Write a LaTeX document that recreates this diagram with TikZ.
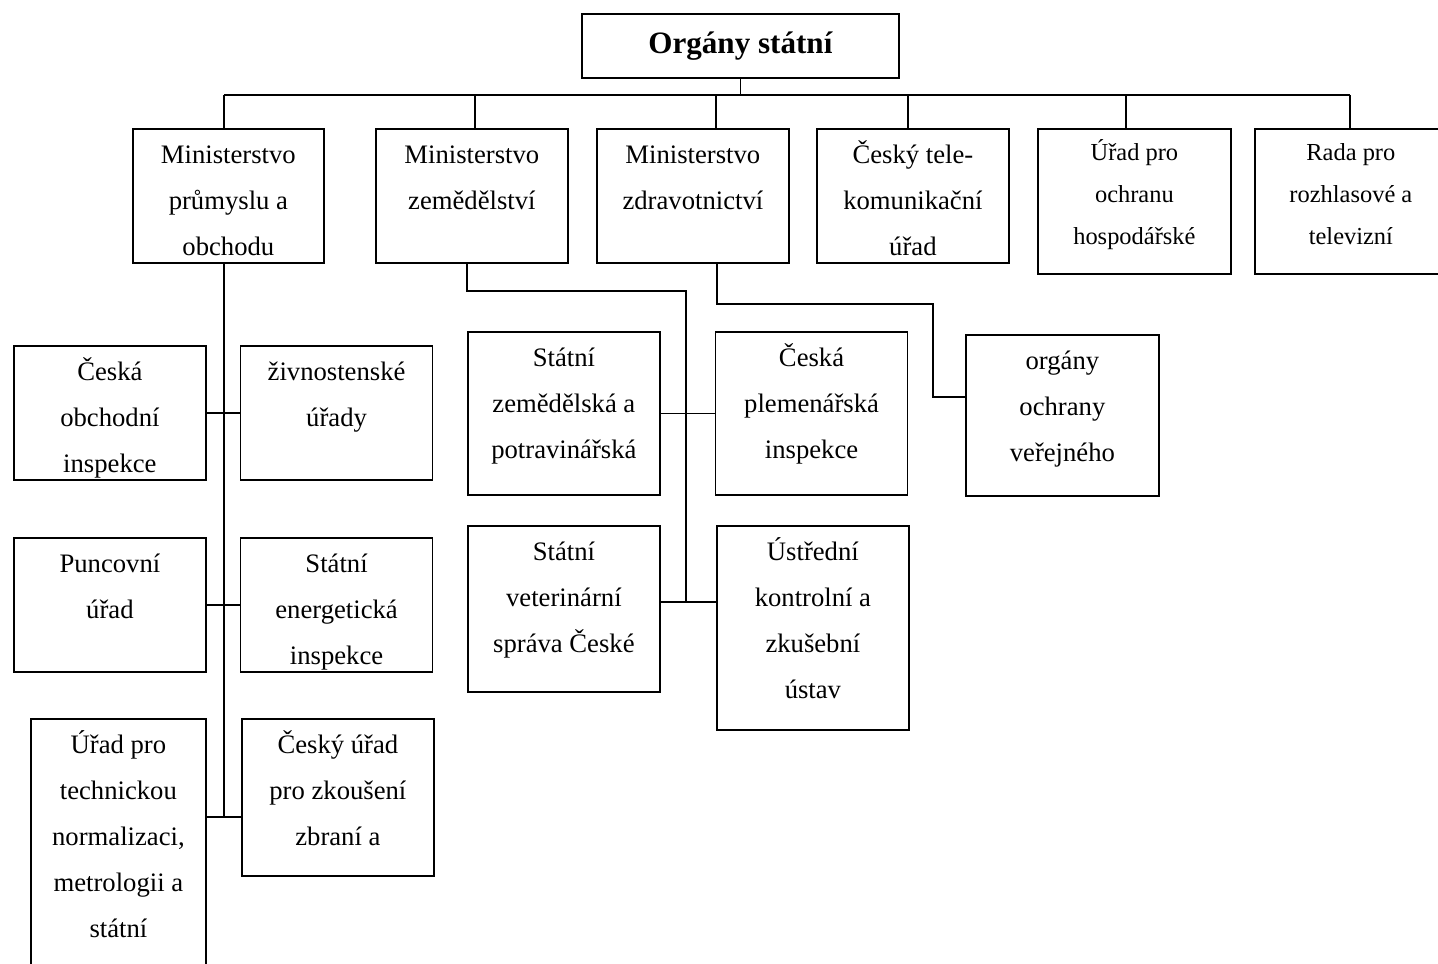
\documentclass[tikz,border=0pt]{standalone}
\usepackage{fontspec}
\setmainfont{Liberation Serif}
\usetikzlibrary{positioning}
\newlength{\unitpx}
\setlength{\unitpx}{0.45pt}
% fixed-size text block, lines start at the top
\newcommand{\boxtxt}[3]{\parbox[t][#2\unitpx][t]{#1\unitpx}{\centering\rule{0pt}{15.6pt}#3}}
\newcommand{\smalltxt}[3]{\parbox[t][#2\unitpx][t]{#1\unitpx}{\centering\rule{0pt}{14.4pt}#3}}

\begin{document}
\begin{tikzpicture}[x=0.45pt, y=-0.45pt]
  \tikzset{
    unit/.style={draw, line width=0.8pt, inner sep=0pt, anchor=north west, font=\fontsize{12}{20.7}\selectfont},
    smallunit/.style={unit, font=\fontsize{11}{18.9}\selectfont},
    head/.style={draw, line width=0.8pt, inner sep=0pt, anchor=north west, minimum width=142.65pt, minimum height=28.8pt, font=\fontsize{14}{16}\selectfont\bfseries},
    link/.style={line width=0.8pt}
  }
  \useasboundingbox (0,0) rectangle (1438,963);

  \node[head] (top) at (581,13) {Orgány státní};

  % ministerstva a urady
  \node[unit] (mpo) at (132,128) {\boxtxt{191}{134}{Ministerstvo\\průmyslu a\\obchodu}};
  \node[unit] (mze) at (375,128) {\boxtxt{192}{134}{Ministerstvo\\zemědělství}};
  \node[unit] (mzd) at (596,128) {\boxtxt{192}{134}{Ministerstvo\\zdravotnictví}};
  \node[unit] (ctu) at (816,128) {\boxtxt{192}{134}{Český tele-\\komunikační\\úřad}};
  \node[smallunit] (uoh) at (1037,128) {\smalltxt{193}{145}{Úřad pro\\ochranu\\hospodářské}};
  \node[smallunit] (rrt) at (1254,128) {\smalltxt{192}{145}{Rada pro\\rozhlasové a\\televizní}};

  % pod MPO
  \node[unit] (coi) at (13,345) {\boxtxt{192}{134}{Česká\\obchodní\\inspekce}};
  \node[unit, right=14.8pt of coi] (zu) {\boxtxt{192}{134}{živnostenské\\úřady}};
  \node[unit] (pu) at (13,537) {\boxtxt{192}{134}{Puncovní\\úřad}};
  \node[unit, right=14.8pt of pu] (sei) {\boxtxt{192}{134}{Státní\\energetická\\inspekce}};
  \node[unit] (utn) at (30,718) {\boxtxt{175}{300}{Úřad pro\\technickou\\normalizaci,\\metrologii a\\státní}};
  \node[unit] (cuz) at (241,718) {\boxtxt{192}{157}{Český úřad\\pro zkoušení\\zbraní a}};

  % pod MZe
  \node[unit] (szpi) at (467,331) {\boxtxt{192}{163}{Státní\\zemědělská a\\potravinářská}};
  \node[unit, right=24.25pt of szpi] (cpi) {\boxtxt{192}{163}{Česká\\plemenářská\\inspekce}};
  \node[unit] (svs) at (467,525) {\boxtxt{192}{166}{Státní\\veterinární\\správa České}};
  \node[unit] (ukzu) at (716,525) {\boxtxt{192}{204}{Ústřední\\kontrolní a\\zkušební\\ústav}};

  % pod MZd
  \node[unit] (oov) at (965,334) {\boxtxt{193}{161}{orgány\\ochrany\\veřejného}};

  % body napojeni
  \coordinate (mpoT) at (224,128);
  \coordinate (mzeT) at (475,128);
  \coordinate (mzdT) at (716,128);
  \coordinate (ctuT) at (908,128);
  \coordinate (uohT) at (1126,128);
  \coordinate (rrtT) at (1350,128);
  \coordinate (mpoB) at (224,262);
  \coordinate (mpoJ) at (224,817);
  \coordinate (mzeB) at (467,262);
  \coordinate (mzeJ) at (686,602);
  \coordinate (mzdB) at (717,262);
  \coordinate (oovJ) at (965,397);

  \draw[link] (top.south) -- ++(0,16) coordinate (bus);
  \draw[link] (mpoT |- bus) -- (rrtT |- bus);
  \foreach \t in {mpoT, mzeT, mzdT, ctuT, uohT, rrtT}
    \draw[link] (\t |- bus) -- (\t);

  \draw[link] (mpoB) -- (mpoJ);
  \draw[link] (coi.east) -- (zu.west);
  \draw[link] (pu.east) -- (sei.west);
  \draw[link] (utn.east |- mpoJ) -- (cuz.west |- mpoJ);

  \draw[link] (mzeB) |- ++(219,29) -- (mzeJ);
  \draw[link] (szpi.east) -- (cpi.west);
  \draw[link] (svs.east |- mzeJ) -- (ukzu.west |- mzeJ);

  \draw[link] (mzdB) |- ++(216,42) |- (oovJ);
\end{tikzpicture}
\end{document}
